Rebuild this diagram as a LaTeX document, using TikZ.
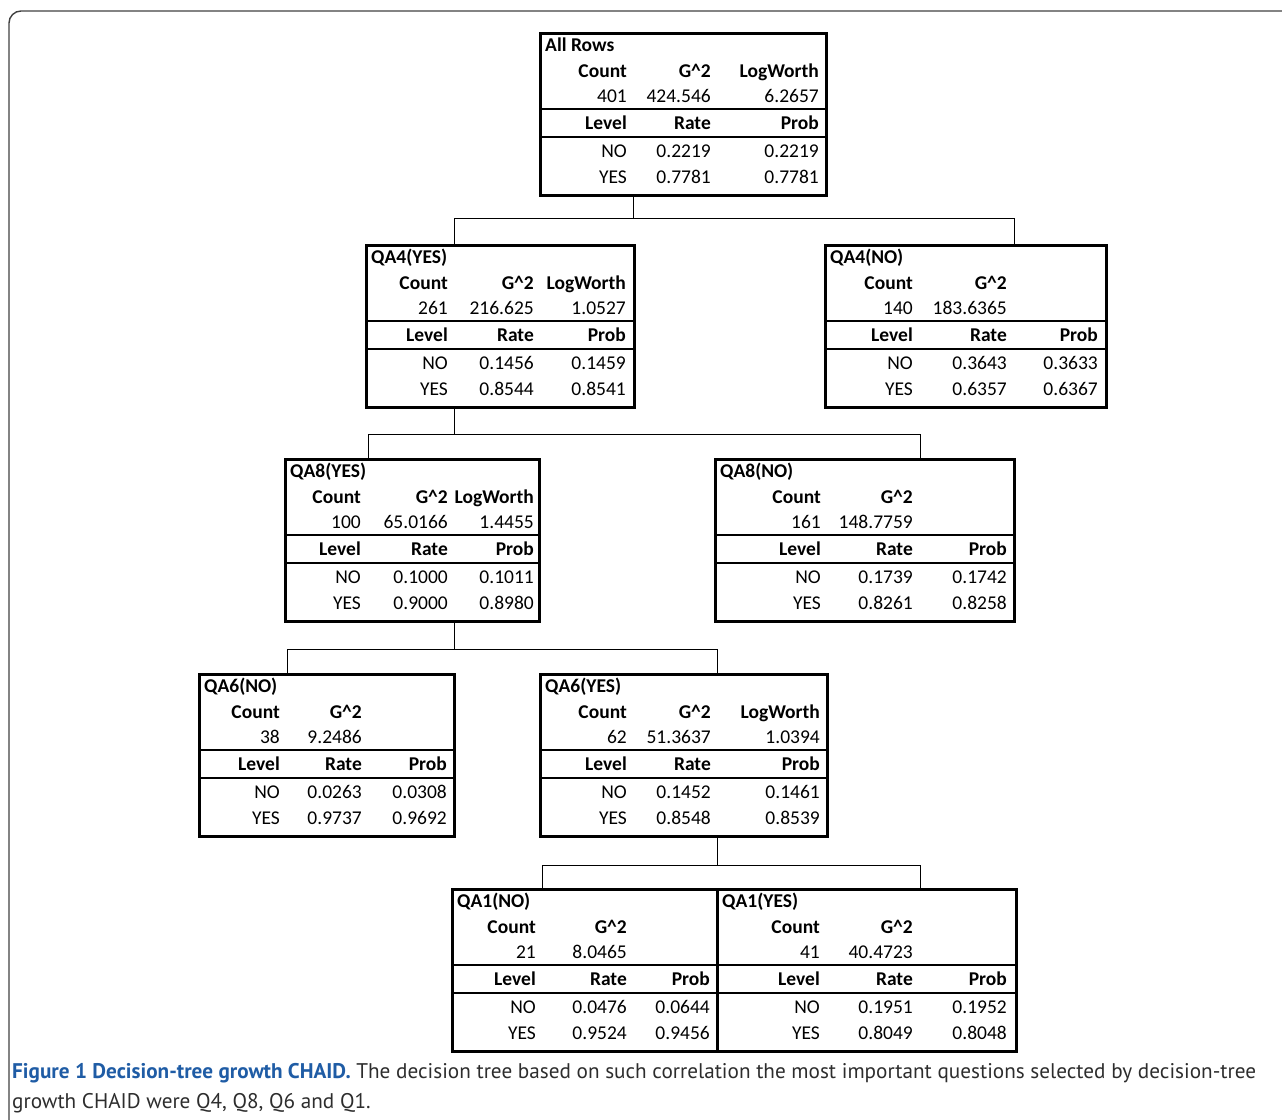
\documentclass[tikz,border=0pt]{standalone}
\usepackage{fontspec}
\setmainfont{Carlito}
\newfontfamily\capfont{PT Sans}
\usetikzlibrary{positioning}
\definecolor{capblue}{RGB}{31,92,165}
\definecolor{captext}{RGB}{45,45,45}

\begin{document}
\begin{tikzpicture}[x=1pt,y=-1pt,
  box/.style={draw,line width=2.6pt,minimum height=162,anchor=north west,inner sep=0pt},
  sepline/.style={line width=2.4pt},
  link/.style={line width=1.3pt},
  cell/.style={inner sep=0pt,font=\fontsize{19.5}{22}\selectfont},
  head/.style={inner sep=0pt,font=\fontsize{19.5}{22}\selectfont\bfseries},
  caption/.style={inner sep=0pt,anchor=base west,text=captext,font=\capfont\fontsize{21.2}{25}\selectfont}]
  \useasboundingbox (0,0) rectangle (1282,1119);
  \draw[line width=1.4pt,black!75,rounded corners=12] (9,1140) -- (9,11) -- (1300,11);
  \foreach \n/\l/\t/\w/\ca/\cb/\cc/\ttl/\cnt/\gg/\lwh/\lw/\nr/\np/\yr/\yp in {
    all/539/32/286/627/711/819/All Rows/401/424.546/LogWorth/6.2657/0.2219/0.2219/0.7781/0.7781,
    qa4yes/365/244/268/448/534/626/QA4(YES)/261/216.625/LogWorth/1.0527/0.1456/0.1459/0.8544/0.8541,
    qa4no/824/244/281/913/1007/1098/QA4(NO)/140/183.6365/{}/{}/0.3643/0.3633/0.6357/0.6367,
    qa8yes/284/458/254/361/448/534/QA8(YES)/100/65.0166/LogWorth/1.4455/0.1000/0.1011/0.9000/0.8980,
    qa8no/714/458/299/821/913/1007/QA8(NO)/161/148.7759/{}/{}/0.1739/0.1742/0.8261/0.8258,
    qa6no/198/673/255/280/362/447/QA6(NO)/38/9.2486/{}/{}/0.0263/0.0308/0.9737/0.9692,
    qa6yes/539/673/287/627/711/820/QA6(YES)/62/51.3637/LogWorth/1.0394/0.1452/0.1461/0.8548/0.8539,
    qa1no/451/888/265/536/627/710/QA1(NO)/21/8.0465/{}/{}/0.0476/0.0644/0.9524/0.9456,
    qa1yes/716/888/299/820/913/1007/QA1(YES)/41/40.4723/{}/{}/0.1951/0.1952/0.8049/0.8048}{
    \node[box,minimum width=\w] (\n) at (\l,\t) {};
    \draw[sepline] ([yshift=-77]\n.north west) -- ([yshift=-77]\n.north east);
    \draw[sepline] ([yshift=-105]\n.north west) -- ([yshift=-105]\n.north east);
    \node[head,anchor=base west] (\n-ttl) at (\l+6,\t+19) {\ttl};
    \node[head,anchor=base east] (\n-h1) at (\ca,\t+45) {Count};
    \node[head,anchor=base east] (\n-h2) at (\cb,\t+45) {G\textasciicircum2};
    \node[head,anchor=base east] (\n-h3) at (\cc,\t+45) {\lwh};
    \node[cell,anchor=base east] (\n-v1) at (\ca,\t+70) {\cnt};
    \node[cell,anchor=base east] (\n-v2) at (\cb,\t+70) {\gg};
    \node[cell,anchor=base east] (\n-v3) at (\cc,\t+70) {\lw};
    \node[head,anchor=base east] (\n-l1) at (\ca,\t+97) {Level};
    \node[head,anchor=base east] (\n-l2) at (\cb,\t+97) {Rate};
    \node[head,anchor=base east] (\n-l3) at (\cc,\t+97) {Prob};
    \node[cell,anchor=base east] (\n-n1) at (\ca,\t+125) {NO};
    \node[cell,anchor=base east] (\n-n2) at (\cb,\t+125) {\nr};
    \node[cell,anchor=base east] (\n-n3) at (\cc,\t+125) {\np};
    \node[cell,anchor=base east] (\n-y1) at (\ca,\t+151) {YES};
    \node[cell,anchor=base east] (\n-y2) at (\cb,\t+151) {\yr};
    \node[cell,anchor=base east] (\n-y3) at (\cc,\t+151) {\yp};
  }
  \draw[link] ([xshift=-50]all.south) -- ++(0,22) -| ([xshift=-46]qa4yes.north);
  \draw[link] ([xshift=-50]all.south) -- ++(0,22) -| ([xshift=48.5]qa4no.north);
  \draw[link] ([xshift=-46]qa4yes.south) -- ++(0,26) -| ([xshift=-44]qa8yes.north);
  \draw[link] ([xshift=-46]qa4yes.south) -- ++(0,26) -| ([xshift=55.5]qa8no.north);
  \draw[link] ([xshift=42]qa8yes.south) -- ++(0,27) -| ([xshift=-39.5]qa6no.north);
  \draw[link] ([xshift=42]qa8yes.south) -- ++(0,27) -| ([xshift=33.5]qa6yes.north);
  \draw[link] ([xshift=33.5]qa6yes.south) -- ++(0,28) -| ([xshift=-42.5]qa1no.north);
  \draw[link] ([xshift=33.5]qa6yes.south) -- ++(0,28) -| ([xshift=53.5]qa1yes.north);
  \node[caption] (cap1) at (12,1078) {\textcolor{capblue}{\bfseries Figure 1 Decision-tree growth CHAID.} The decision tree based on such correlation the most important questions selected by decision-tree};
  \node[caption] (cap2) at (12,1108) {growth CHAID were Q4, Q8, Q6 and Q1.};
\end{tikzpicture}
\end{document}
